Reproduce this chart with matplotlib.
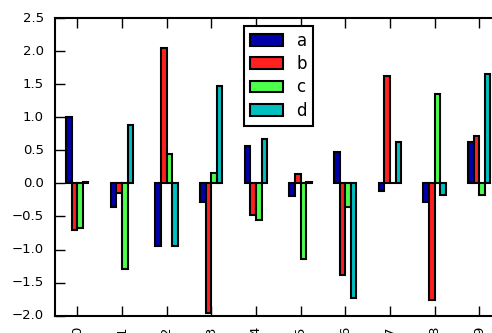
import numpy as np
import matplotlib
matplotlib.use("Agg")
import matplotlib.pyplot as plt

plt.style.use("classic")

# groups along the x axis
categories = ["0", "1", "2", "3", "4", "5", "6", "7", "8", "9"]
series_names = ["a", "b", "c", "d"]

# one list per series
a = [1.00, -0.36, -0.94, -0.28, 0.56, -0.19, 0.47, -0.12, -0.28, 0.62]
b = [-0.70, -0.14, 2.04, -1.96, -0.48, 0.14, -1.38, 1.62, -1.76, 0.71]
c = [-0.67, -1.30, 0.45, 0.15, -0.56, -1.15, -0.35, 0.01, 1.35, -0.17]
d = [0.02, 0.89, -0.94, 1.47, 0.67, 0.02, -1.73, 0.62, -0.17, 1.65]

colors = ["#0000aa", "#ff2020", "#4dff4d", "#00c0c0"]

W, H = 492, 333
fig = plt.figure(figsize=(W / 100, H / 100), dpi=100, facecolor="white")
ax = fig.add_axes([55 / W, 1 - 315.7 / H, (501.6 - 55) / W, (315.7 - 18) / H])

x = np.arange(len(categories))
bw = 0.5 / len(series_names)
for j, (name, vals) in enumerate(zip(series_names, [a, b, c, d])):
    ax.bar(x + (j - 1.5) * bw, vals, bw, color=colors[j], edgecolor="black",
           linewidth=1.5, label=name, align="center")

ax.set_xlim(-0.5, len(categories) - 0.5)
ax.set_ylim(-2.0, 2.5)
ax.set_yticks(np.arange(-2.0, 2.51, 0.5))
ax.set_xticks(x)
ax.set_xticklabels(categories, rotation=90)
ax.tick_params(axis="both", which="major", direction="in", length=7,
               width=1, labelsize=9.5, pad=8)
ax.tick_params(which="minor", length=0)
for s in ax.spines.values():
    s.set_linewidth(1.5)

leg = ax.legend(loc="upper left", bbox_to_anchor=(244 / W, 1 - 26 / H),
                bbox_transform=fig.transFigure, borderaxespad=0,
                fontsize=12, fancybox=False, shadow=False,
                handlelength=2.0, handleheight=0.7, labelspacing=0.32,
                borderpad=0.35)
leg.get_frame().set_linewidth(1.5)
leg.get_frame().set_edgecolor("black")

fig.savefig("out.png", dpi=100, facecolor="white")
